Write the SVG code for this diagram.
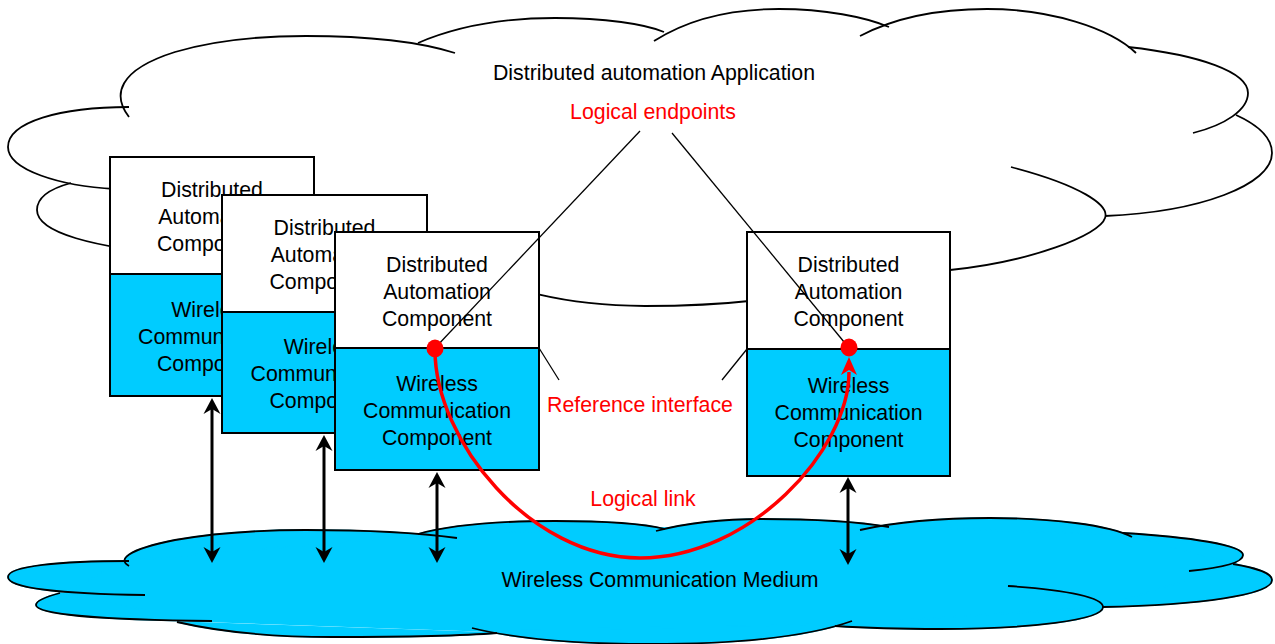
<svg xmlns="http://www.w3.org/2000/svg" width="1275" height="644" viewBox="0 0 1275 644">
<style>
.cl{fill:none;stroke:#000;stroke-width:1.8}
.wb path{fill:#fff;stroke:#fff;stroke-width:1.5}
.cb path{fill:#00CCFF;stroke:#00CCFF;stroke-width:1.5}
.bt{fill:#fff;stroke:#000;stroke-width:2}
.bb{fill:#00CCFF;stroke:#000;stroke-width:2}
.t{font-family:"Liberation Sans",Arial,sans-serif;font-size:21.3px;text-anchor:middle;fill:#000}
.r{fill:#f00}
.thin{stroke:#000;stroke-width:1.3;fill:none}
.arr{stroke:#000;stroke-width:3;fill:none;marker-start:url(#ah);marker-end:url(#ah)}
.link{stroke:#f00;stroke-width:3.5;fill:none;marker-end:url(#rh)}
</style>
<defs>
<marker id="ah" markerUnits="userSpaceOnUse" markerWidth="30" markerHeight="30" viewBox="-15 -15 30 30" refX="0" refY="0" orient="auto-start-reverse" overflow="visible">
<path d="M8,0 L-8,-8.5 L-3,0 L-8,8.5 Z" fill="#000"/>
</marker>
<marker id="rh" markerUnits="userSpaceOnUse" markerWidth="40" markerHeight="40" viewBox="-20 -20 40 40" refX="0" refY="0" orient="auto" overflow="visible">
<path d="M15,0 L-3,-8 L2,0 L-3,8 Z" fill="#f00"/>
</marker>
</defs>

<g id="app-cloud">
<g class="wb">
<path d="M129,117 C112,95 118,70 175,52 C215,40 260,36 306,36 C370,36 420,42 455,53 Z"/>
<path d="M418,43 C460,25 505,18 555,18 C605,18 645,24 664,32 Z"/>
<path d="M654,41 C690,18 735,9 779,9 C825,9 865,17 889,27 Z"/>
<path d="M860,36 C900,15 945,9 987,9 C1050,9 1110,28 1136,53 Z"/>
<path d="M1128,47 C1200,55 1248,72 1248,93 C1248,110 1225,125 1193,133 Z"/>
<path d="M1236,115 C1258,125 1272,138 1272,153 C1272,185 1200,212 1105,216 Z"/>
<path d="M1011,167 C1080,185 1110,205 1105,218 C1100,235 1030,262 950,270 C910,273 880,276 845,285 Z"/>
<path d="M470,268 C510,290 560,305 645,306 C720,306 790,300 860,280 Z"/>
<path d="M178,250 C230,285 280,291 327,291 C390,291 440,288 480,275 Z"/>
<path d="M71,183 C45,190 37,200 37,210 C37,232 90,248 190,256 Z"/>
<path d="M115,189 C60,186 8,170 8,147 C8,122 60,107 129,107 Z"/>
<path d="M121,107 L440,48 L660,33 L872,25 L1131,49 L1236,115 L1105,216 L852,282 L475,272 L185,254 L75,185 Z"/>
</g>
<path class="cl" d="M115,189 C60,186 8,170 8,147 C8,122 60,107 129,107"/>
<path class="cl" d="M71,183 C45,190 37,200 37,210 C37,232 90,248 190,256"/>
<path class="cl" d="M178,250 C230,285 280,291 327,291 C390,291 440,288 480,275"/>
<path class="cl" d="M470,268 C510,290 560,305 645,306 C720,306 790,300 860,280"/>
<path class="cl" d="M1011,167 C1080,185 1110,205 1105,218 C1100,235 1030,262 950,270 C910,273 880,276 845,285"/>
<path class="cl" d="M1236,115 C1258,125 1272,138 1272,153 C1272,185 1200,212 1105,216"/>
<path class="cl" d="M1128,47 C1200,55 1248,72 1248,93 C1248,110 1225,125 1193,133"/>
<path class="cl" d="M860,36 C900,15 945,9 987,9 C1050,9 1110,28 1136,53"/>
<path class="cl" d="M654,41 C690,18 735,9 779,9 C825,9 865,17 889,27"/>
<path class="cl" d="M418,43 C460,25 505,18 555,18 C605,18 645,24 664,32"/>
<path class="cl" d="M129,117 C112,95 118,70 175,52 C215,40 260,36 306,36 C370,36 420,42 455,53"/>
<text class="t" x="654" y="80">Distributed automation Application</text>
<text class="t r" x="653" y="119">Logical endpoints</text>
</g>

<g id="medium-cloud">
<g class="cb">
<path d="M145,595 C60,594 8,588 8,577 C8,566 60,561 129,561 Z"/>
<path d="M60,593 C45,597 36,601 36,605 C36,614 100,620 212,621 Z"/>
<path d="M177,622 C220,632 270,637 333,637 C400,637 460,636 497,633 Z"/>
<path d="M472,628 C520,640 580,644 650,644 C740,644 810,636 852,621 Z"/>
<path d="M1008,586 C1070,590 1103,598 1103,607 C1103,620 1030,629 940,629 C900,629 865,628 835,626 Z"/>
<path d="M1233,564 C1258,568 1272,574 1272,580 C1272,595 1200,605 1103,607 Z"/>
<path d="M1123,533 C1190,537 1243,545 1243,555 C1243,563 1220,568 1189,571 Z"/>
<path d="M860,530 C900,521 945,518 990,518 C1050,518 1110,525 1132,537 Z"/>
<path d="M656,531 C690,522 725,519 762,519 C810,519 860,522 889,527 Z"/>
<path d="M418,534 C450,525 500,521 555,521 C605,521 645,524 665,529 Z"/>
<path d="M129,566 C118,560 125,550 175,540 C215,533 260,530 306,530 C370,530 420,533 457,538 Z"/>
<path d="M123,561 L437,534 L660,528 L875,526 L1128,535 L1236,564 L1103,607 L845,624 L485,631 L195,621 L65,593 Z"/>
</g>
<path class="cl" d="M145,595 C60,594 8,588 8,577 C8,566 60,561 129,561"/>
<path class="cl" d="M60,593 C45,597 36,601 36,605 C36,614 100,620 212,621"/>
<path class="cl" d="M177,622 C220,632 270,637 333,637 C400,637 460,636 497,633"/>
<path class="cl" d="M472,628 C520,640 580,644 650,644 C740,644 810,636 852,621"/>
<path class="cl" d="M1008,586 C1070,590 1103,598 1103,607 C1103,620 1030,629 940,629 C900,629 865,628 835,626"/>
<path class="cl" d="M1233,564 C1258,568 1272,574 1272,580 C1272,595 1200,605 1103,607"/>
<path class="cl" d="M1123,533 C1190,537 1243,545 1243,555 C1243,563 1220,568 1189,571"/>
<path class="cl" d="M860,530 C900,521 945,518 990,518 C1050,518 1110,525 1132,537"/>
<path class="cl" d="M656,531 C690,522 725,519 762,519 C810,519 860,522 889,527"/>
<path class="cl" d="M418,534 C450,525 500,521 555,521 C605,521 645,524 665,529"/>
<path class="cl" d="M129,566 C118,560 125,550 175,540 C215,533 260,530 306,530 C370,530 420,533 457,538"/>
<text class="t" x="660" y="587">Wireless Communication Medium</text>
</g>

<g id="node1">
<rect class="bt" x="110" y="157" width="204" height="117"/>
<rect class="bb" x="110" y="274" width="204" height="122"/>
<text class="t" x="212" y="197">Distributed</text>
<text class="t" x="212" y="224">Automation</text>
<text class="t" x="212" y="251">Component</text>
<text class="t" x="212" y="317">Wireless</text>
<text class="t" x="212" y="344">Communication</text>
<text class="t" x="212" y="371">Component</text>
</g>
<g id="node2">
<rect class="bt" x="222" y="195" width="205" height="117"/>
<rect class="bb" x="222" y="312" width="205" height="121"/>
<text class="t" x="324.5" y="235">Distributed</text>
<text class="t" x="324.5" y="262">Automation</text>
<text class="t" x="324.5" y="289">Component</text>
<text class="t" x="324.5" y="354">Wireless</text>
<text class="t" x="324.5" y="381">Communication</text>
<text class="t" x="324.5" y="408">Component</text>
</g>
<g id="node3">
<rect class="bt" x="335" y="232" width="204" height="116"/>
<rect class="bb" x="335" y="348" width="204" height="122"/>
<text class="t" x="437" y="272">Distributed</text>
<text class="t" x="437" y="299">Automation</text>
<text class="t" x="437" y="326">Component</text>
<text class="t" x="437" y="391">Wireless</text>
<text class="t" x="437" y="418">Communication</text>
<text class="t" x="437" y="445">Component</text>
</g>
<g id="node4">
<rect class="bt" x="747" y="232" width="203" height="117"/>
<rect class="bb" x="747" y="349" width="203" height="127"/>
<text class="t" x="848.5" y="272">Distributed</text>
<text class="t" x="848.5" y="299">Automation</text>
<text class="t" x="848.5" y="326">Component</text>
<text class="t" x="848.5" y="393">Wireless</text>
<text class="t" x="848.5" y="420">Communication</text>
<text class="t" x="848.5" y="447">Component</text>
</g>

<g id="connectors">
<line class="thin" x1="640" y1="131" x2="435" y2="348"/>
<line class="thin" x1="672" y1="133" x2="849" y2="348"/>
<line class="thin" x1="539" y1="348" x2="559" y2="380"/>
<line class="thin" x1="747" y1="349" x2="722" y2="380"/>
<line class="arr" x1="212" y1="406" x2="212" y2="555"/>
<line class="arr" x1="324" y1="443" x2="324" y2="555"/>
<line class="arr" x1="437" y1="480" x2="437" y2="555"/>
<line class="arr" x1="848" y1="485" x2="848" y2="557"/>
<path class="link" d="M435,350 C435,440 530,558 640,558 C750,558 849,450 849,372"/>
<text class="t r" x="640" y="412">Reference interface</text>
<text class="t r" x="643" y="506">Logical link</text>
</g>
<g id="endpoints">
<ellipse cx="435" cy="348.5" rx="8.5" ry="9" fill="#f00"/>
<ellipse cx="849" cy="347.5" rx="8.5" ry="9" fill="#f00"/>
</g>
</svg>
